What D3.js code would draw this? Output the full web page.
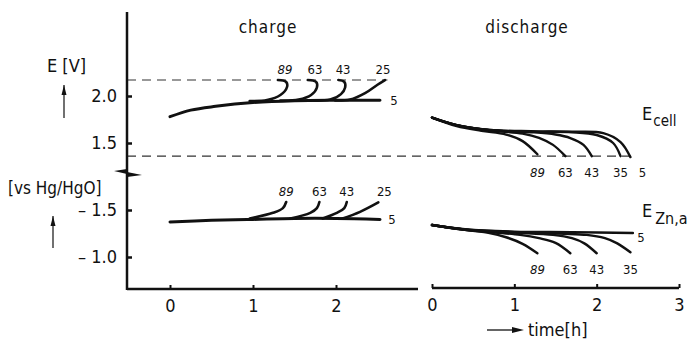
<!DOCTYPE html>
<html>
<head>
<meta charset="utf-8">
<script src="https://cdn.jsdelivr.net/npm/d3@7"></script>
<style>
  body { margin: 0; background: #fff; }
  svg text { font-family: "DejaVu Sans Condensed", "DejaVu Sans", sans-serif; fill: #111; }
</style>
</head>
<body>
<svg id="chart" width="697" height="339"></svg>
<script>
// --- data (t in h, E in V) ---
const xTicksCharge = [0, 1, 2]
const xTicksDischarge = [0, 1, 2, 3]
const yTicksCell = [2.0, 1.5]
const yTicksZn = [-1.5, -1.0]
const cutoffCell = [2.17, 1.36]

const chargeCellMain = [[0, 1.78], [0.25, 1.85], [0.55, 1.89], [1.0, 1.93], [1.5, 1.95], [2.0, 1.955], [2.53, 1.955]]
const chargeCellLabels = ["89", "63", "43", "25"]
const chargeCell = [
    [[0.96, 1.947], [1.17, 1.957], [1.33, 2.01], [1.41, 2.096], [1.40, 2.149], [1.30, 2.17]],
    [[1.33, 1.952], [1.55, 1.962], [1.70, 2.01], [1.77, 2.09], [1.76, 2.15], [1.66, 2.17]],
    [[1.69, 1.952], [1.93, 1.962], [2.06, 2.02], [2.11, 2.09], [2.10, 2.15], [2.03, 2.17]],
    [[1.99, 1.952], [2.17, 1.962], [2.35, 2.03], [2.50, 2.12], [2.59, 2.17]]
]

const chargeZnMain = [[0, -1.373], [0.5, -1.39], [1.0, -1.40], [1.5, -1.41], [2.0, -1.41], [2.53, -1.40]]
const chargeZn = [
    [[0.96, -1.41], [1.24, -1.47], [1.36, -1.52], [1.40, -1.585]],
    [[1.45, -1.41], [1.69, -1.47], [1.77, -1.52], [1.80, -1.585]],
    [[1.84, -1.41], [2.01, -1.47], [2.10, -1.52], [2.13, -1.585]],
    [[2.08, -1.41], [2.29, -1.48], [2.51, -1.58]]
]

const dischargeLabels = ["89", "63", "43", "35", "5"]
const dischargeCell = [
    [[0, 1.77], [0.3, 1.68], [0.6, 1.63], [0.9, 1.59], [1.1, 1.52], [1.28, 1.38]],
    [[0, 1.77], [0.3, 1.69], [0.7, 1.635], [1.1, 1.60], [1.3, 1.555], [1.47, 1.48], [1.62, 1.36]],
    [[0, 1.77], [0.3, 1.69], [0.7, 1.637], [1.2, 1.615], [1.5, 1.59], [1.68, 1.553], [1.84, 1.48], [1.94, 1.36]],
    [[0, 1.77], [0.3, 1.69], [0.7, 1.638], [1.2, 1.62], [1.7, 1.615], [2.0, 1.585], [2.2, 1.50], [2.29, 1.36]],
    [[0, 1.77], [0.3, 1.69], [0.7, 1.64], [1.2, 1.625], [1.7, 1.62], [2.08, 1.605], [2.29, 1.51], [2.41, 1.35]]
]
const dischargeZn = [
    [[0, -1.34], [0.3, -1.30], [0.67, -1.26], [0.9, -1.21], [1.1, -1.14], [1.28, -1.04]],
    [[0, -1.34], [0.4, -1.29], [1.07, -1.235], [1.3, -1.2], [1.5, -1.15], [1.68, -1.04]],
    [[0, -1.34], [0.4, -1.29], [1.0, -1.26], [1.47, -1.235], [1.7, -1.2], [1.85, -1.145], [2.0, -1.04]],
    [[0, -1.34], [0.4, -1.292], [1.0, -1.265], [1.88, -1.235], [2.1, -1.2], [2.25, -1.145], [2.41, -1.05]],
    [[0, -1.34], [0.4, -1.295], [1.0, -1.27], [1.7, -1.265], [2.44, -1.255]]
]

// --- scales ---
const svg = d3.select("#chart")
const xL = d3.scaleLinear().domain([0, 2]).range([170, 336])
const xR = d3.scaleLinear().domain([0, 3]).range([432, 679])
const yTop = d3.scaleLinear().domain([2.0, 1.5]).range([96, 143])
const yBot = d3.scaleLinear().domain([-1.5, -1.0]).range([210, 257])
const axisX = 127

const lineOf = (x, y) => d3.line()
    .x(d => x(d[0]))
    .y(d => y(d[1]))
    .curve(d3.curveCatmullRom.alpha(0.5))

function drawCurve(data, x, y, w) {
    svg.append("path")
        .attr("d", lineOf(x, y)(data))
        .attr("fill", "none")
        .attr("stroke", "#111")
        .attr("stroke-width", w)
        .attr("stroke-linecap", "round")
}

// dashed cut-off lines
svg.append("line")
    .attr("x1", axisX).attr("x2", xL(2.62))
    .attr("y1", yTop(cutoffCell[0])).attr("y2", yTop(cutoffCell[0]))
    .attr("stroke", "#333").attr("stroke-width", 1.2).attr("stroke-dasharray", "9,6")
svg.append("line")
    .attr("x1", axisX).attr("x2", xR(2.49))
    .attr("y1", yTop(cutoffCell[1])).attr("y2", yTop(cutoffCell[1]))
    .attr("stroke", "#333").attr("stroke-width", 1.2).attr("stroke-dasharray", "9,6")

// y axis
svg.append("line")
    .attr("x1", axisX).attr("x2", axisX).attr("y1", 12).attr("y2", 290)
    .attr("stroke", "#111").attr("stroke-width", 2.5)

const yAxisTop = svg.append("g")
    .attr("transform", `translate(${axisX},0)`)
    .call(d3.axisLeft(yTop).tickValues(yTicksCell).tickSize(-5).tickPadding(10).tickFormat(d3.format(".1f")))
const yAxisBot = svg.append("g")
    .attr("transform", `translate(${axisX},0)`)
    .call(d3.axisLeft(yBot).tickValues(yTicksZn).tickSize(-5).tickPadding(10)
        .tickFormat(d => "\u2013 " + d3.format(".1f")(Math.abs(d))))

for (const g of [yAxisTop, yAxisBot]) {
    g.select(".domain").remove()
    g.selectAll(".tick line").attr("stroke", "#111").attr("stroke-width", 2.5)
    g.selectAll(".tick text").style("font-size", "18px").attr("fill", "#111")
}

// axis break
svg.append("path")
    .attr("d", `M ${axisX} 169 L ${axisX - 13} 171 L ${axisX} 174 Z M ${axisX} 172 L ${axisX + 15} 175 L ${axisX} 177 Z`)
    .attr("fill", "#111")

// x axes
const xAxisL = svg.append("g")
    .attr("transform", "translate(0,289)")
    .call(d3.axisBottom(xL).tickValues(xTicksCharge).tickSize(-4).tickPadding(10).tickFormat(d3.format("d")))
const xAxisR = svg.append("g")
    .attr("transform", "translate(0,288)")
    .call(d3.axisBottom(xR).tickValues(xTicksDischarge).tickSize(-4).tickPadding(10).tickFormat(d3.format("d")))

for (const g of [xAxisL, xAxisR]) {
    g.select(".domain").remove()
    g.selectAll(".tick line").attr("stroke", "#111").attr("stroke-width", 2)
    g.selectAll(".tick text").style("font-size", "18px").attr("fill", "#111")
}
svg.append("line").attr("x1", axisX).attr("x2", 418).attr("y1", 289).attr("y2", 289)
    .attr("stroke", "#111").attr("stroke-width", 2.5)
svg.append("line").attr("x1", xR(0)).attr("x2", xR(3)).attr("y1", 288).attr("y2", 288)
    .attr("stroke", "#111").attr("stroke-width", 2.5)

// charge curves
drawCurve(chargeCellMain, xL, yTop, 3)
chargeCell.forEach(c => drawCurve(c, xL, yTop, 2.6))
drawCurve(chargeZnMain, xL, yBot, 3)
chargeZn.forEach(c => drawCurve(c, xL, yBot, 2.6))

// discharge curves
dischargeCell.forEach(c => drawCurve(c, xR, yTop, 2.4))
dischargeZn.forEach(c => drawCurve(c, xR, yBot, 2.4))

// curve labels
function smallLabel(x, y, txt, italic) {
    svg.append("text")
        .attr("x", x).attr("y", y)
        .attr("text-anchor", "middle")
        .style("font-size", "13px")
        .style("font-style", italic ? "italic" : "normal")
        .text(txt)
}

chargeCell.forEach((c, i) => {
    const top = c[c.length - 1]
    const xs = d3.max(c, d => d[0])
    smallLabel(xL(xs) - 2, yTop(top[1]) - 6, chargeCellLabels[i], i === 0)
})
smallLabel(xL(chargeCellMain[chargeCellMain.length - 1][0]) + 14, yTop(1.955) + 5, "5")
chargeZn.forEach((c, i) => {
    const xs = d3.max(c, d => d[0])
    smallLabel(xL(xs) + (i === 3 ? 6 : 0), yBot(-1.585) - 6, chargeCellLabels[i], i === 0)
})
smallLabel(xL(chargeZnMain[chargeZnMain.length - 1][0]) + 12, yBot(-1.40) + 5, "5")

dischargeCell.forEach((c, i) => {
    const end = c[c.length - 1]
    smallLabel(xR(end[0]) + (i === 4 ? 12 : 0), yTop(1.36) + 21, dischargeLabels[i], i === 0)
})
dischargeZn.forEach((c, i) => {
    const end = c[c.length - 1]
    if (i < 4) {
        smallLabel(xR(end[0]), yBot(-1.04) + 21, dischargeLabels[i], i === 0)
    } else {
        smallLabel(xR(end[0]) + 8, yBot(end[1]) + 9, dischargeLabels[i])
    }
})

// titles
svg.append("text").attr("x", 268).attr("y", 33).attr("text-anchor", "middle")
    .style("font-size", "17px").style("letter-spacing", "1px").text("charge")
svg.append("text").attr("x", 527).attr("y", 33).attr("text-anchor", "middle")
    .style("font-size", "17px").style("letter-spacing", "1px").text("discharge")

// y labels
svg.append("text").attr("x", 47).attr("y", 72).style("font-size", "18px").text("E [V]")
svg.append("text").attr("x", 8).attr("y", 194).style("font-size", "17px").text("[vs Hg/HgO]")

function upArrow(x, y1, y2) {
    svg.append("line").attr("x1", x).attr("x2", x).attr("y1", y1).attr("y2", y2)
        .attr("stroke", "#111").attr("stroke-width", 1.2)
    svg.append("path")
        .attr("d", `M ${x} ${y2} L ${x - 2.5} ${y2 + 10} L ${x + 2.5} ${y2 + 10} Z`)
        .attr("fill", "#111")
}
upArrow(64, 118, 85)
upArrow(53, 248, 216)

// series names
const eCell = svg.append("text").attr("x", 642).attr("y", 120).style("font-size", "18px")
eCell.append("tspan").text("E")
eCell.append("tspan").attr("dx", 1).attr("dy", 6).style("font-size", "15px").text("cell")
const eZn = svg.append("text").attr("x", 642).attr("y", 217).style("font-size", "18px")
eZn.append("tspan").text("E")
eZn.append("tspan").attr("dx", 3).attr("dy", 7).style("font-size", "16px").text("Zn,a")

// time label
svg.append("line").attr("x1", 487).attr("x2", 514).attr("y1", 330).attr("y2", 330)
    .attr("stroke", "#111").attr("stroke-width", 1.3)
svg.append("path").attr("d", "M 524 330 L 512 327 L 512 333 Z").attr("fill", "#111")
svg.append("text").attr("x", 528).attr("y", 336).style("font-size", "18px").text("time[h]")
</script>
</body>
</html>
